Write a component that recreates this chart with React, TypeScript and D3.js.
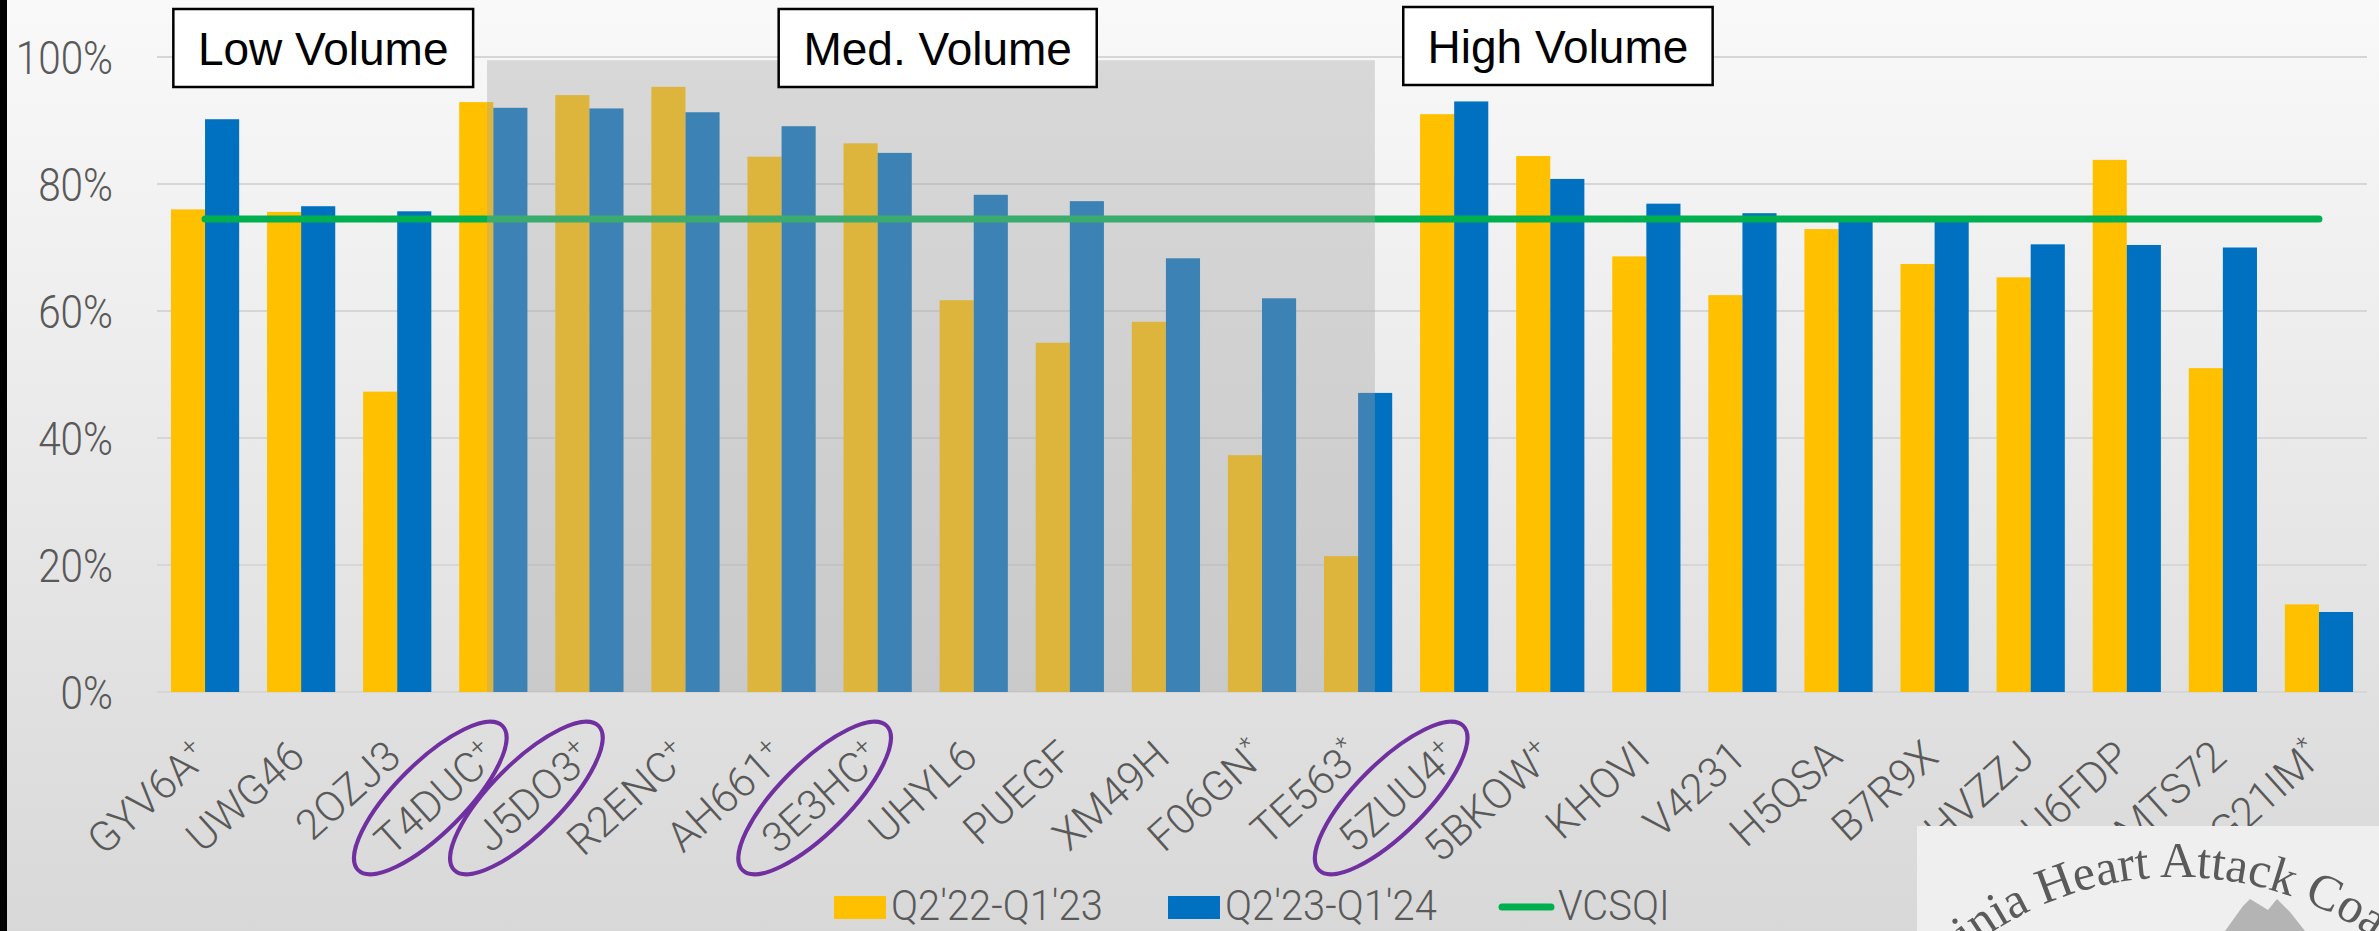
import React from 'react';
import * as d3 from 'd3';

const categories = ['GYV6A+', 'UWG46', '2OZJ3', 'T4DUC+', 'J5DO3+', 'R2ENC+', 'AH661+', '3E3HC+', 'UHYL6', 'PUEGF', 'XM49H', 'F06GN*', 'TE563*', '5ZUU4+', '5BKOW+', 'KHOVI', 'V4231', 'H5QSA', 'B7R9X', 'HVZZJ', 'U6FDP', 'MTS72', 'G21IM*'];
const q222 = [76.0, 75.6, 47.3, 92.9, 94.0, 95.3, 84.3, 86.4, 61.7, 55.0, 58.3, 37.3, 21.4, 91.0, 84.4, 68.6, 62.5, 72.9, 67.4, 65.3, 83.8, 51.0, 13.8];
const q223 = [90.2, 76.5, 75.7, 92.0, 91.9, 91.3, 89.1, 84.9, 78.3, 77.3, 68.3, 62.0, 47.1, 93.0, 80.8, 76.9, 75.4, 74.9, 74.7, 70.5, 70.4, 70.0, 12.6];
const vcsqi = [74.5, 74.5, 74.5, 74.5, 74.5, 74.5, 74.5, 74.5, 74.5, 74.5, 74.5, 74.5, 74.5, 74.5, 74.5, 74.5, 74.5, 74.5, 74.5, 74.5, 74.5, 74.5, 74.5];
const yTicks = [0, 20, 40, 60, 80, 100];
const seriesNames = ["Q2'22-Q1'23", "Q2'23-Q1'24", 'VCSQI'];
const circled = ['T4DUC+', 'J5DO3+', '3E3HC+', '5ZUU4+'];
// box spans in category-slot units from the left of the plot
const groups = [
  { label: 'Low Volume', u0: 0.17, u1: 3.29, top: 9 },
  { label: 'Med. Volume', u0: 6.47, u1: 9.78, top: 9 },
  { label: 'High Volume', u0: 12.97, u1: 16.19, top: 7 },
];

const W = 2379;
const H = 931;
const YELLOW = '#FFC000';
const BLUE = '#0070C0';
const GREEN = '#00B050';
const GREY_TXT = '#595959';
const LIGHT = 'Roboto, "Liberation Sans", sans-serif';
const ANG = (42 * Math.PI) / 180;

export default function App() {
  const x = d3.scaleBand().domain(categories).range([157, 2367]).paddingInner(0.29).paddingOuter(0.145);
  const xs = d3.scaleBand().domain(['a', 'b']).range([0, x.bandwidth()]);
  const y = d3.scaleLinear().domain([0, 100]).range([692, 57]);
  const step = x.step();
  const x0 = x.range()[0];
  const cx = (c) => x(c) + x.bandwidth() / 2;
  const ux = (u) => x0 + u * step;

  const line = d3.line<number>()
    .x((d, i) => cx(categories[i]))
    .y((d) => y(d));

  // medium-volume shading, in slot units
  const medX0 = ux(3.435);
  const medX1 = ux(12.675);

  const splitLabel = (c) => {
    const last = c[c.length - 1];
    if (last === '+' || last === '*') return [c.slice(0, -1), last];
    return [c, ''];
  };

  // slanted guide paths for category labels (text ends at the path end)
  const labelPath = (c) => {
    const ex = cx(c) + 6;
    const ey = 760;
    const len = 320;
    return `M ${ex - len * Math.cos(ANG)} ${ey + len * Math.sin(ANG)} L ${ex} ${ey}`;
  };

  // watermark arc
  const wcx = 2178, wcy = 1217, wr = 340;
  const arc = `M ${wcx - wr} ${wcy} A ${wr} ${wr} 0 0 1 ${wcx + wr} ${wcy}`;

  return (
    <svg width={W} height={H} style={{ position: 'absolute', left: 0, top: 0, display: 'block' }}>
      <defs>
        <linearGradient id="bg" x1="0" y1="0" x2="0" y2="1">
          <stop offset="0" stopColor="#f9f9f9" />
          <stop offset="1" stopColor="#d8d8d8" />
        </linearGradient>
        <clipPath id="wm">
          <rect x={1917} y={826} width={W - 1917} height={H - 826} />
        </clipPath>
        <path id="wmarc" d={arc} />
        {categories.map((c, i) => (
          <path key={c} id={`lbl${i}`} d={labelPath(c)} />
        ))}
      </defs>
      <rect x={0} y={0} width={W} height={H} fill="url(#bg)" />
      <rect x={0} y={0} width={7} height={H} fill="#000" />

      {/* gridlines + y ticks */}
      {yTicks.map((t) => (
        <g key={t}>
          <line x1={157} x2={2367} y1={y(t)} y2={y(t)} stroke="#d6d6d6" strokeWidth={2} />
          <g transform={`translate(113,${y(t)}) scale(0.88,1)`}>
            <text dy="0.36em" textAnchor="end" fontFamily={LIGHT} fontWeight={300} fontSize={46} fill={GREY_TXT}>{t}%</text>
          </g>
        </g>
      ))}

      {/* bars */}
      {categories.map((c, i) => (
        <g key={c}>
          <rect x={x(c) + xs('a')} y={y(q222[i])} width={xs.bandwidth()} height={y(0) - y(q222[i])} fill={YELLOW} />
          <rect x={x(c) + xs('b')} y={y(q223[i])} width={xs.bandwidth()} height={y(0) - y(q223[i])} fill={BLUE} />
        </g>
      ))}

      <path d={line(vcsqi)} fill="none" stroke={GREEN} strokeWidth={7} strokeLinecap="round" />

      <rect x={medX0} y={y(99.5)} width={medX1 - medX0} height={y(0) - y(99.5)} fill="rgb(164,164,164)" fillOpacity={0.37} />

      {/* group boxes */}
      {groups.map((g) => {
        const b0 = ux(g.u0);
        const b1 = ux(g.u1);
        return (
          <g key={g.label}>
            <rect x={b0} y={g.top} width={b1 - b0} height={78} fill="#fff" stroke="#000" strokeWidth={2.5} />
            <text x={(b0 + b1) / 2} y={g.top + 39} dy="0.36em" textAnchor="middle" fontFamily='"Liberation Sans", Arial, sans-serif' fontSize={46} fill="#000">{g.label}</text>
          </g>
        );
      })}

      {/* category labels */}
      {categories.map((c, i) => {
        const [main, sup] = splitLabel(c);
        return (
          <text key={c} fontFamily={LIGHT} fontWeight={300} fontSize={42} fill={GREY_TXT}>
            <textPath href={`#lbl${i}`} startOffset="100%" textAnchor="end">
              {main}
              {sup && <tspan fontSize={26} dy={-16}>{sup}</tspan>}
            </textPath>
          </text>
        );
      })}

      {circled.map((c) => (
        <ellipse key={c} cx={cx(c) - 63} cy={798} rx={102} ry={35} transform={`rotate(-45 ${cx(c) - 63} 798)`} fill="none" stroke="#7030A0" strokeWidth={4} />
      ))}

      {/* legend */}
      <g fontFamily={LIGHT} fontWeight={300} fontSize={42} fill={GREY_TXT}>
        <rect x={834} y={896} width={52} height={23} fill={YELLOW} />
        <text transform="translate(891,920) scale(0.95,1)">{seriesNames[0]}</text>
        <rect x={1168} y={896} width={52} height={23} fill={BLUE} />
        <text transform="translate(1225,920) scale(0.95,1)">{seriesNames[1]}</text>
        <line x1={1502} x2={1551} y1={907} y2={907} stroke={GREEN} strokeWidth={7} strokeLinecap="round" />
        <text transform="translate(1558,920) scale(0.95,1)">{seriesNames[2]}</text>
      </g>

      {/* watermark logo */}
      <g clipPath="url(#wm)">
        <rect x={1917} y={826} width={W - 1917} height={H - 826} fill="#efefef" />
        <path d="M2225,931 L2243,906 L2250,899 L2260,905 L2268,910 L2277,899 L2290,912 L2305,931 Z" fill="#b4b4b4" />
        <text fontFamily='"Liberation Serif", "DejaVu Serif", serif' fontSize={50} fill="#5a5a5a">
          <textPath href="#wmarc" startOffset="50%" textAnchor="middle">Virginia Heart Attack Coalition</textPath>
        </text>
      </g>
    </svg>
  );
}
